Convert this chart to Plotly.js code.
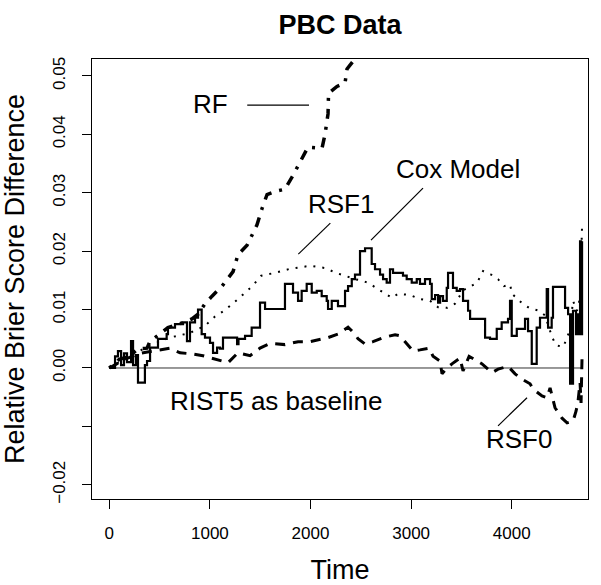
<!DOCTYPE html>
<html>
<head>
<meta charset="utf-8">
<script src="https://cdn.plot.ly/plotly-3.0.1.min.js"></script>
<style>html,body{margin:0;padding:0;background:#fff;}#chart{width:601px;height:585px;}</style>
</head>
<body>
<div id="chart"></div>
<script>
// ---- data ----
const coxT = [0,57,86,117,146,176,216,236,265,285,354,375,405,484,570,583,653,733,772,802,852,882,918,951,1001,1031,1071,1100,1130,1270,1284,1349,1415,1498,1548,1746,1826,1876,1912,1962,2012,2062,2111,2161,2174,2211,2273,2343,2373,2410,2442,2492,2542,2608,2641,2691,2721,2757,2790,2820,2919,2956,3006,3056,3088,3138,3188,3205,3238,3268,3288,3317,3354,3367,3416,3453,3486,3516,3566,3586,3735,3784,3851,3900,3963,3983,4000,4050,4132,4162,4199,4248,4281,4348,4361,4397,4410,4530,4560,4580,4590,4600,4609,4639,4659,4669,4679,4689,4699];
const coxY = [0,0.002,0.0029,0.0005,0.0025,0.001,0.0046,0.0005,0.0022,-0.0025,0.0005,0.0012,0.0035,0.005,0.0058,0.0069,0.0075,0.0078,0.0046,0.0078,0.0086,0.010,0.0058,0.0052,0.0043,0.0026,0.0035,0.0033,0.0052,0.0041,0.005,0.0055,0.0069,0.0112,0.0101,0.0144,0.0129,0.0115,0.0132,0.0144,0.0129,0.0132,0.0123,0.0115,0.0101,0.0115,0.0106,0.0132,0.014,0.0152,0.016,0.020,0.0205,0.0178,0.0169,0.016,0.0152,0.0146,0.0169,0.0163,0.0158,0.0152,0.0146,0.0152,0.0144,0.0152,0.0144,0.0118,0.0125,0.0112,0.0123,0.0115,0.0137,0.0163,0.0137,0.0132,0.0135,0.0115,0.0098,0.0084,0.0052,0.005,0.0067,0.0078,0.0084,0.0115,0.0055,0.0067,0.0084,0.0063,0.0007,0.0069,0.0086,0.0135,0.0069,0.0086,0.0139,0.0103,0.0092,-0.0027,0.0092,-0.0027,0.0098,0.0058,0.0092,0.0058,0.0217,0.0058,0.0217];

const rsf1T = [0,100,250,400,600,800,950,1050,1150,1280,1420,1510,1650,1800,2000,2150,2250,2343,2442,2512,2591,2671,2741,2810,2870,2989,3088,3188,3268,3357,3436,3516,3585,3655,3715,3794,3864,3923,3983,4003,4102,4172,4271,4331,4401,4440,4510,4550,4580,4609,4649,4679,4699];
const rsf1Y = [0,0.001,0.0025,0.0038,0.0052,0.006,0.0072,0.0088,0.0099,0.0118,0.014,0.0158,0.0163,0.017,0.0175,0.0171,0.0163,0.0158,0.0152,0.015,0.0144,0.0135,0.0127,0.012,0.0127,0.0125,0.0118,0.0115,0.0104,0.0103,0.011,0.0133,0.0139,0.0146,0.0166,0.016,0.0152,0.014,0.0143,0.0127,0.0111,0.0103,0.0098,0.009,0.0053,0.0039,0.0036,0.0051,0.0068,0.0115,0.0098,0.012,0.0243];

const rfT = [0,100,200,286,375,405,454,583,723,822,882,951,1021,1120,1230,1279,1369,1468,1518,1568,1667,1746,1826,1896,1975,2114,2144,2174,2179,2263,2343,2363,2422,2492];
const rfY = [0,0.0015,0.002,0.0033,0.0034,0.0046,0.0052,0.0069,0.0077,0.0084,0.0092,0.011,0.0123,0.014,0.0165,0.0194,0.021,0.0245,0.0273,0.0297,0.0303,0.0306,0.033,0.0354,0.0378,0.0376,0.04,0.0435,0.047,0.0482,0.0488,0.0512,0.0524,0.054];

const rsf0T = [0,156,305,474,603,703,832,931,1051,1180,1279,1399,1498,1598,1746,1876,1995,2065,2174,2273,2373,2442,2472,2542,2621,2721,2840,2890,2959,3019,3088,3178,3218,3287,3307,3357,3406,3486,3516,3576,3705,3804,3864,3963,4033,4102,4182,4212,4301,4351,4381,4430,4500,4550,4609,4639,4659,4679,4689,4699];
const rsf0Y = [0,0.0015,0.0025,0.003,0.0034,0.0026,0.0024,0.0021,0.0015,0.0009,0.0026,0.0021,0.0034,0.0042,0.004,0.0045,0.0045,0.0048,0.0052,0.0058,0.007,0.0058,0.005,0.0041,0.0045,0.0052,0.0057,0.0055,0.0041,0.0029,0.0031,0.0034,0.002,0.0012,-0.001,0,0.0007,0.0017,-0.0005,0.002,0.0007,-0.0008,-0.0002,0.0003,-0.001,-0.0019,-0.0027,-0.0036,-0.0048,-0.0051,-0.0034,-0.0068,-0.0086,-0.0094,-0.0091,-0.0074,-0.0057,-0.0025,-0.006,0.002];

const baseT = [0,4699];
const baseY = [0,0];

const xTicks = [0,1000,2000,3000,4000];
const yTicks = [-0.02,-0.01,0,0.01,0.02,0.03,0.04,0.05];
const yTickText = ["\u22120.02","","0.00","0.01","0.02","0.03","0.04","0.05"];

const labelText = ["RF","RSF1","Cox Model","RIST5 as baseline","RSF0"];
const labelT = [1001,2306,3461,1657,4074];
const labelY = [0.0452,0.0281,0.0341,-0.0057,-0.0122];
const segT0 = [1371,1879,2601,3864];
const segY0 = [0.045,0.0195,0.0219,-0.0099];
const segT1 = [1985,2197,3118,4152];
const segY1 = [0.045,0.0248,0.0308,-0.0051];

// ---- chart ----
const FONT = "Liberation Sans, Arial, Helvetica, sans-serif";
const traces = [
  {x: baseT, y: baseY, mode:'lines', line:{color:'#333', width:1}, hoverinfo:'skip'},
  {x: rsf1T, y: rsf1Y, mode:'lines', line:{color:'#000', width:2, dash:'2px,7px'}},
  {x: rsf0T, y: rsf0Y, mode:'lines', line:{color:'#000', width:3, dash:'10px,8px'}},
  {x: rfT, y: rfY, mode:'lines', line:{color:'#000', width:3.5, dash:'3px,8px,10px,8px'}},
  {x: coxT, y: coxY, mode:'lines', line:{color:'#000', width:2.2, shape:'hv'}}
];

const annotations = labelText.map((t,i)=>({
  x: labelT[i], y: labelY[i], xref:'x', yref:'y', text: t, showarrow:false,
  font:{family:FONT, size:26, color:'#000'}, xanchor:'center', yanchor:'middle'
}));
const shapes = segT0.map((t,i)=>({
  type:'line', xref:'x', yref:'y', x0:t, y0:segY0[i], x1:segT1[i], y1:segY1[i],
  line:{color:'#000', width:1.2}
}));

const layout = {
  width:601, height:585,
  margin:{l:92, r:13, t:59, b:86},
  paper_bgcolor:'#fff', plot_bgcolor:'#fff',
  showlegend:false,
  font:{family:FONT, color:'#000'},
  title:{text:'<b>PBC Data</b>', font:{family:FONT, size:27, color:'#000'},
         x:0.5, xref:'paper', xanchor:'center', y:1-25/585, yref:'container', yanchor:'middle'},
  xaxis:{range:[-172,4758], tickvals:xTicks, ticktext:xTicks.map(String),
         ticks:'outside', ticklen:9, tickwidth:1, tickcolor:'#000',
         showline:true, linecolor:'#000', linewidth:1, mirror:true,
         showgrid:false, zeroline:false, tickfont:{family:FONT, size:17, color:'#000'},
         ticklabelstandoff:10,
         title:{text:'Time', font:{family:FONT, size:27, color:'#000'}, standoff:21}},
  yaxis:{range:[-0.02243,0.0529], tickvals:yTicks, ticktext:yTickText,
         ticks:'outside', ticklen:9, tickwidth:1, tickcolor:'#000', tickangle:-90,
         showline:true, linecolor:'#000', linewidth:1, mirror:true,
         showgrid:false, zeroline:false, tickfont:{family:FONT, size:17, color:'#000'},
         ticklabelstandoff:10,
         title:{text:'Relative Brier Score Difference', font:{family:FONT, size:27, color:'#000'}, standoff:24}},
  annotations: annotations,
  shapes: shapes
};

Plotly.newPlot('chart', traces, layout, {displayModeBar:false, staticPlot:true});
</script>
</body>
</html>
